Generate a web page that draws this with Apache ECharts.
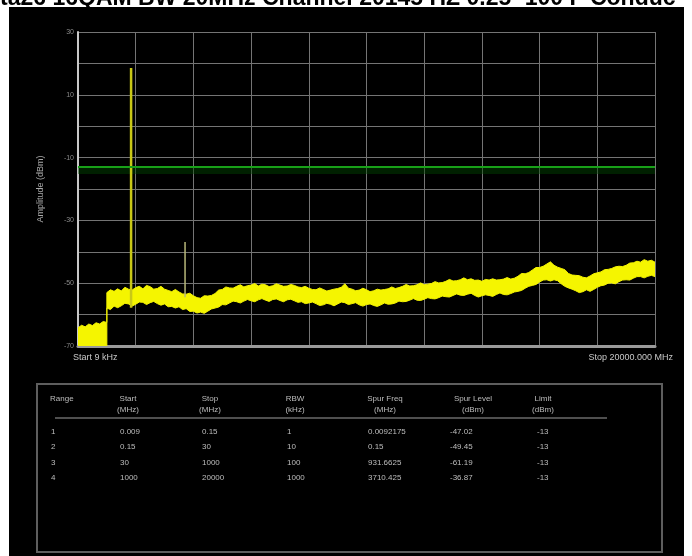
<!DOCTYPE html>
<html><head><meta charset="utf-8">
<script src="https://cdn.jsdelivr.net/npm/echarts@6/dist/echarts.min.js"></script>
<style>html,body{margin:0;padding:0;background:#fff}#c{width:692px;height:556px}</style>
</head><body><div id="c"></div>
<script>
// ---- data ----
const titleText = 'ta26 16QAM BW 20MHz Channel 20145 HZ 0.25~100 F Conduc';
const freqMHz = [0,125,250,375,500,625,750,875,1000,
 1000,1125,1250,1375,1500,1625,1750,1875,
 2000,2125,2250,2375,2500,2625,2750,2875,
 3000,3125,3250,3375,3500,3625,3750,3875,
 4000,4125,4250,4375,4500,4625,4750,4875,
 5000,5125,5250,5375,5500,5625,5750,5875,
 6000,6125,6250,6375,6500,6625,6750,6875,
 7000,7125,7250,7375,7500,7625,7750,7875,
 8000,8125,8250,8375,8500,8625,8750,8875,
 9000,9125,9250,9375,9500,9625,9750,9875,
 10000,10125,10250,10375,10500,10625,10750,10875,
 11000,11125,11250,11375,11500,11625,11750,11875,
 12000,12125,12250,12375,12500,12625,12750,12875,
 13000,13125,13250,13375,13500,13625,13750,13875,
 14000,14125,14250,14375,14500,14625,14750,14875,
 15000,15125,15250,15375,15500,15625,15750,15875,
 16000,16125,16250,16375,16500,16625,16750,16875,
 17000,17125,17250,17375,17500,17625,17750,17875,
 18000,18125,18250,18375,18500,18625,18750,18875,
 19000,19125,19250,19375,19500,19625,19750,19875,
 20000];
const traceUpper = [-64.2,-63.4,-63.9,-63.0,-63.5,-62.6,-63.0,-62.2,-62.5,
 -53.0,-52.1,-52.6,-51.8,-52.5,-51.3,-51.9,-52.2,
 -51.4,-51.0,-51.8,-50.7,-51.1,-51.9,-51.7,-51.0,
 -51.9,-52.3,-52.7,-52.0,-52.8,-53.4,-53.5,-53.2,
 -54.0,-54.6,-54.8,-54.0,-54.1,-53.9,-53.3,-52.2,
 -52.0,-51.2,-51.5,-51.6,-51.0,-50.5,-51.2,-50.8,
 -50.6,-50.1,-50.9,-50.3,-50.5,-51.1,-50.8,-50.2,
 -50.6,-51.0,-50.9,-50.4,-50.7,-51.2,-51.4,-51.0,
 -51.6,-52.0,-52.1,-51.5,-52.0,-52.5,-52.2,-51.9,
 -51.7,-51.3,-50.2,-51.6,-51.9,-52.4,-52.2,-51.6,
 -52.1,-52.7,-52.4,-51.9,-52.2,-52.0,-51.8,-51.2,
 -51.7,-51.4,-51.0,-50.4,-50.9,-50.8,-50.5,-49.9,
 -50.5,-50.3,-50.1,-49.5,-49.9,-49.8,-49.4,-48.8,
 -49.3,-49.2,-48.9,-48.3,-48.9,-48.6,-49.1,-49.0,
 -49.4,-48.8,-49.0,-48.6,-49.0,-48.9,-48.7,-48.2,
 -48.7,-48.4,-47.8,-46.9,-47.0,-46.6,-45.8,-45.0,
 -45.0,-44.6,-43.9,-43.2,-44.3,-44.9,-45.3,-45.7,
 -46.9,-47.4,-47.5,-47.6,-48.1,-48.3,-47.7,-47.0,
 -46.7,-46.4,-45.7,-45.6,-45.3,-44.8,-44.6,-44.7,
 -44.3,-43.6,-43.5,-43.0,-43.3,-42.5,-43.0,-42.7,
 -43.3];
const traceLower = [-70,-70,-70,-70,-70,-70,-70,-70,-70,
 -57.9,-58.4,-57.3,-57.8,-57.2,-56.4,-56.6,-57.3,
 -56.7,-56.0,-56.1,-56.8,-56.2,-55.8,-56.5,-57.0,
 -56.6,-57.5,-57.4,-57.9,-57.5,-58.4,-58.1,-59.0,
 -58.9,-59.5,-59.2,-59.6,-58.9,-58.2,-57.9,-57.6,
 -56.8,-56.9,-56.3,-55.7,-55.9,-56.3,-55.7,-55.2,
 -55.6,-55.9,-55.3,-54.9,-55.4,-55.8,-55.2,-55.0,
 -55.5,-55.9,-55.3,-55.1,-55.6,-56.1,-55.9,-56.5,
 -56.3,-56.0,-56.5,-57.1,-56.9,-56.4,-56.7,-57.2,
 -56.6,-56.0,-56.2,-56.8,-56.5,-56.2,-56.9,-57.3,
 -56.8,-56.6,-57.1,-57.4,-56.9,-56.3,-56.7,-56.6,
 -56.3,-55.7,-55.9,-55.8,-55.4,-54.9,-55.4,-55.5,
 -55.1,-54.6,-54.9,-55.0,-54.6,-54.1,-54.3,-54.4,
 -53.9,-53.4,-53.8,-53.9,-53.5,-53.2,-53.9,-54.4,
 -54.0,-53.7,-53.9,-54.2,-53.6,-53.1,-53.6,-53.7,
 -53.3,-52.8,-52.6,-52.3,-51.6,-51.0,-50.7,-50.4,
 -49.6,-49.0,-48.9,-49.3,-48.9,-49.2,-50.2,-51.0,
 -51.5,-51.9,-52.4,-53.0,-52.7,-52.1,-52.6,-52.0,
 -51.3,-50.8,-50.6,-50.0,-49.9,-50.2,-49.5,-49.0,
 -48.9,-49.0,-48.4,-47.9,-47.9,-48.3,-47.8,-47.5,
 -47.9];
const spikeFreq = [1840, 3710.425];
const spikeBase = [-57.8, -54.5];
const spikePeak = [18.5, -36.87];
const limitDbm = -13;
const yTicks = [30, 10, -10, -30, -50, -70];
const startLabel = 'Start 9 kHz';
const stopLabel = 'Stop 20000.000 MHz';
const yName = 'Amplitude (dBm)';
const headers = ['Range', 'Start\n(MHz)', 'Stop\n(MHz)', 'RBW\n(kHz)', 'Spur Freq\n(MHz)', 'Spur Level\n(dBm)', 'Limit\n(dBm)'];
const colRange = ['1', '2', '3', '4'];
const colStart = ['0.009', '0.15', '30', '1000'];
const colStop = ['0.15', '30', '1000', '20000'];
const colRbw = ['1', '10', '100', '1000'];
const colSpurFreq = ['0.0092175', '0.15', '931.6625', '3710.425'];
const colSpurLevel = ['-47.02', '-49.45', '-61.19', '-36.87'];
const colLimit = ['-13', '-13', '-13', '-13'];

// ---- build ----
const bandData = freqMHz.map((f, i) => [f, traceLower[i], traceUpper[i]]);
function renderBand(params, api) {
  if (params.dataIndex !== 0) return null;
  const top = bandData.map(d => api.coord([d[0], d[2]]));
  const bot = bandData.map(d => api.coord([d[0], d[1]])).reverse();
  return {
    type: 'polygon', shape: { points: top.concat(bot) },
    style: { fill: '#f5f500', stroke: '#f5f500', lineWidth: 1 },
    clipPath: { type: 'rect', shape: { x: params.coordSys.x, y: params.coordSys.y, width: params.coordSys.width, height: params.coordSys.height } }
  };
}
const spikeSeries = spikeFreq.map((f, i) => ({
  type: 'line', silent: true, symbol: 'none', animation: false, z: 4,
  data: [[f, spikeBase[i]], [f, spikePeak[i]]],
  lineStyle: { color: i === 0 ? '#c9c816' : '#b8b77a', width: i === 0 ? 2.5 : 1.5 }
}));

const tableFont = '8px "Liberation Sans", Arial, sans-serif';
const tCol = '#bdbdbd';
const headerX = [50, 128, 210, 295, 385, 473, 543];
const headerAlign = ['left', 'center', 'center', 'center', 'center', 'center', 'center'];
const valueX = [51, 120, 202, 287, 368, 450, 537];
const rowY = [432, 447, 463, 478];
const cols = [colRange, colStart, colStop, colRbw, colSpurFreq, colSpurLevel, colLimit];
const tableEls = [];
headers.forEach((h, i) => {
  tableEls.push({ type: 'text', x: headerX[i], y: 393, style: { text: h, fill: tCol, font: tableFont, align: headerAlign[i], lineHeight: 11 } });
});
cols.forEach((col, ci) => col.forEach((v, ri) => {
  tableEls.push({ type: 'text', x: valueX[ci], y: rowY[ri] - 4, style: { text: v, fill: tCol, font: tableFont } });
}));

const chart = echarts.init(document.getElementById('c'), null, { renderer: 'canvas' });
chart.setOption({
  backgroundColor: '#ffffff',
  animation: false,
  grid: { left: 78, right: 37, top: 32, bottom: 210 },
  xAxis: {
    type: 'value', min: 0, max: 20000, interval: 2000,
    axisLine: { show: true, onZero: false, lineStyle: { color: '#9a9a9a', width: 3 } },
    axisTick: { show: false }, axisLabel: { show: false },
    splitLine: { show: true, lineStyle: { color: '#747474', width: 1 } }
  },
  yAxis: {
    type: 'value', min: -70, max: 30, interval: 10,
    name: yName, nameLocation: 'middle', nameGap: 33, nameRotate: 90,
    nameTextStyle: { color: '#a8a8a8', fontSize: 9, fontFamily: 'Liberation Sans' },
    axisLine: { show: true, lineStyle: { color: '#c8c8c8', width: 2 } },
    axisTick: { show: false },
    axisLabel: { color: '#8a8a8a', fontSize: 7, margin: 4,
      formatter: v => yTicks.indexOf(v) >= 0 ? String(v) : '' },
    splitLine: { show: true, lineStyle: { color: '#747474', width: 1 } }
  },
  graphic: [
    { type: 'text', x: 0, y: -13, z: 0, style: { text: titleText, fill: '#000', font: 'bold 23px "Liberation Sans", Arial' } },
    { type: 'rect', shape: { x: 9, y: 7, width: 675, height: 549 }, style: { fill: '#000' }, z: -10 },
    { type: 'text', x: 73, y: 353, style: { text: startLabel, fill: '#c8c8c8', font: '9px "Liberation Sans", Arial' } },
    { type: 'text', x: 673, y: 353, style: { text: stopLabel, fill: '#c8c8c8', font: '9px "Liberation Sans", Arial', align: 'right' } },
    { type: 'rect', shape: { x: 37, y: 384, width: 625, height: 168 }, style: { fill: 'none', stroke: '#5e5e5e', lineWidth: 2 } },
    { type: 'line', shape: { x1: 55, y1: 418, x2: 607, y2: 418 }, style: { stroke: '#6a6a6a', lineWidth: 1.5 } }
  ].concat(tableEls),
  series: [
    { type: 'custom', silent: true, z: 3, renderItem: renderBand, data: bandData,
      encode: { x: 0, y: [1, 2] } },
    { type: 'line', symbol: 'none', silent: true, z: 2, data: [],
      markLine: { silent: true, symbol: 'none', label: { show: false },
        lineStyle: { color: '#18a018', width: 2, type: 'solid' }, data: [{ yAxis: limitDbm }] },
      markArea: { silent: true, itemStyle: { color: 'rgba(0,70,0,0.45)' },
        data: [[{ yAxis: limitDbm }, { yAxis: limitDbm - 2.2 }]] } }
  ].concat(spikeSeries)
});
</script></body></html>
